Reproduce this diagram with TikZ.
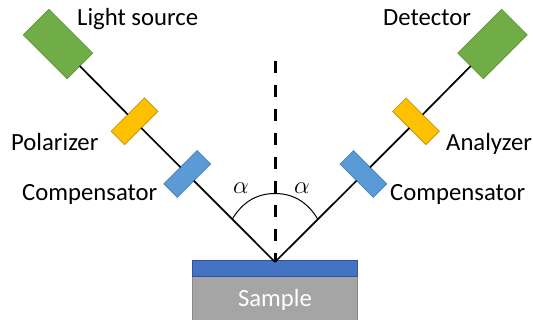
\documentclass[tikz,border=0pt]{standalone}
\usepackage{fontspec}
\setmainfont{Carlito}
\definecolor{grn}{HTML}{70AD47}\definecolor{grnd}{HTML}{5F9A3A}
\definecolor{gld}{HTML}{FFC000}\definecolor{gldd}{HTML}{C99A10}
\definecolor{blu}{HTML}{5B9BD5}\definecolor{blud}{HTML}{4A86BE}
\definecolor{sub}{HTML}{4472C4}\definecolor{subd}{HTML}{2F5597}
\definecolor{gry}{HTML}{A5A5A5}\definecolor{gryd}{HTML}{8A8A8A}
\tikzset{
 x=1pt,y=-1pt,
 part/.style={rectangle,inner sep=0pt,outer sep=0pt,line width=0.8pt},
 bigbox/.style={part,fill=grn,draw=grnd,minimum width=62pt,minimum height=36pt},
 polbox/.style={part,fill=gld,draw=gldd,minimum width=47pt,minimum height=19pt},
 compbox/.style={part,fill=blu,draw=blud,minimum width=47pt,minimum height=19pt},
 lbl/.style={font=\fontsize{24.7}{28}\selectfont,text=black,inner sep=0pt,anchor=base west},
 beam/.style={line width=1.7pt,black},
}
\begin{document}
\begin{tikzpicture}
\useasboundingbox (0,0) rectangle (533,320);
\node[part,fill=gry,draw=gryd,minimum width=164.5pt,minimum height=44pt,anchor=north] (sample) at (275,276.5) {};
\node[part,fill=sub,draw=subd,minimum width=164.5pt,minimum height=16.5pt,anchor=north] (layer) at (275,260) {};
\node[font=\fontsize{24.7}{28}\selectfont,text=white,inner sep=0pt,anchor=base] (sampletext) at (275,307) {Sample};
\coordinate (apex) at (275,262);
\coordinate (normal) at (275,61);
\node[bigbox,rotate=-45] (src) at (58,44) {};
\node[polbox,rotate=45] (pol) at (134.5,121.3) {};
\node[compbox,rotate=45] (cl) at (187.2,174) {};
\node[bigbox,rotate=45] (det) at (492.5,44) {};
\node[polbox,rotate=-45] (ana) at (416,121.3) {};
\node[compbox,rotate=-45] (cr) at (363.3,174) {};
\draw[beam] (src) -- (pol);
\draw[beam] (pol) -- (cl);
\draw[beam] (cl) -- (apex);
\draw[beam] (det) -- (ana);
\draw[beam] (ana) -- (cr);
\draw[beam] (cr) -- (apex);
\draw[line width=3pt,dash pattern=on 12.5pt off 11.5pt] (normal) -- (apex);
\coordinate (al) at (232,219.5);
\coordinate (ar) at (318,219.5);
\draw[line width=1pt] (al) .. controls (243,201) and (258,193.5) .. (275,193.5) .. controls (292,193.5) and (307,201) .. (ar);
\node[lbl] (t1) at (77,26) {Light source};
\node[lbl] (t2) at (11,151) {Polarizer};
\node[lbl] (t3) at (22,201) {Compensator};
\node[lbl] (t4) at (383,26) {Detector};
\node[lbl] (t5) at (446,151) {Analyzer};
\node[lbl] (t6) at (390,201) {Compensator};
\node[inner sep=0pt,font=\fontsize{25}{28}\selectfont] (a1) at (241,188) {$\alpha$};
\node[inner sep=0pt,font=\fontsize{25}{28}\selectfont] (a2) at (302,188) {$\alpha$};
\end{tikzpicture}
\end{document}
